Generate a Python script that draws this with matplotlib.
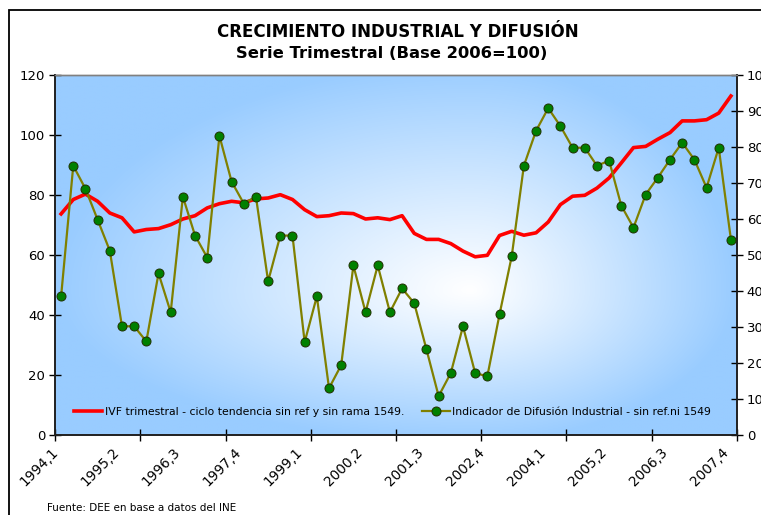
import numpy as np
import matplotlib
matplotlib.use("Agg")
import matplotlib.pyplot as plt
from matplotlib.ticker import FixedLocator
from matplotlib.patches import Rectangle
from matplotlib.lines import Line2D

plt.rcParams['font.family'] = ['DejaVu Sans']

# quarterly data 1994,1 .. 2007,4
years = list(range(1994, 2008))
quarters = [f"{y},{q}" for y in years for q in range(1, 5)]

# IVF trimestral - ciclo tendencia (left axis)
ivf = [73.7, 78.5, 80.3, 77.9, 74.0, 72.4, 67.7, 68.5, 68.8, 70.1,
       72.0, 73.1, 75.7, 77.1, 77.9, 77.4, 78.7, 79.0, 80.1, 78.5,
       75.1, 72.8, 73.1, 74.0, 73.8, 72.0, 72.4, 71.8, 73.1, 67.2,
       65.2, 65.2, 63.8, 61.3, 59.4, 59.9, 66.5, 67.9, 66.6, 67.4,
       71.0, 76.8, 79.6, 79.9, 82.3, 85.7, 90.7, 95.8, 96.2, 98.6,
       100.8, 104.7, 104.7, 105.1, 107.3, 113.0]

# Indicador de Difusion Industrial (right axis)
difusion = [38.5, 74.8, 68.4, 59.8, 51.2, 30.2, 30.2, 26.0, 44.9, 34.1,
            66.2, 55.4, 49.3, 83.1, 70.4, 64.3, 66.2, 42.7, 55.4, 55.4,
            25.8, 38.5, 13.0, 19.4, 47.1, 34.1, 47.1, 34.1, 40.7, 36.6,
            23.8, 10.8, 17.2, 30.2, 17.2, 16.3, 33.5, 49.6, 74.8, 84.5,
            90.8, 85.8, 79.8, 79.8, 74.8, 76.2, 63.7, 57.6, 66.8, 71.5,
            76.5, 81.2, 76.5, 68.7, 79.8, 54.3]

x = np.arange(len(quarters))

fig = plt.figure(figsize=(7.61, 5.15), dpi=100)
ax = fig.add_axes([55/761, 80/515, 682/761, 360/515])
ax2 = ax.twinx()

# background gradient (light centre, blue edges)
gx = np.linspace(0, 1, 400)
gy = np.linspace(0, 1, 300)
X, Y = np.meshgrid(gx, gy)
cx, cy = 0.61, 0.40
dx = np.where(X < cx, (cx - X) / cx, (X - cx) / (1 - cx))
dy = np.where(Y < cy, (cy - Y) / cy, (Y - cy) / (1 - cy)) * 0.95
t = np.clip(np.sqrt(dx**2 + dy**2), 0, 1) ** 1.05
blue = np.array([153, 204, 255]) / 255.0
img = (1 - t[..., None]) * np.ones(3) + t[..., None] * blue
ax.imshow(img, extent=[0, 1, 0, 1], transform=ax.transAxes, origin='lower',
          aspect='auto', zorder=0, interpolation='bilinear')

ax.plot(x, ivf, color='#FF0000', lw=2.6, zorder=3, solid_joinstyle='round')
ax2.plot(x, difusion, color='#808000', lw=1.6, marker='o', markersize=6.5,
         markerfacecolor='#008000', markeredgecolor='#203000', markeredgewidth=0.7,
         zorder=4)

ax.set_xlim(-0.5, len(x) - 0.5)
ax.set_ylim(0, 120)
ax2.set_ylim(0, 100)
ax.set_yticks(range(0, 121, 20))
ax2.set_yticks(range(0, 101, 10))

ax.set_xticks(x[::5])
ax.set_xticklabels(quarters[::5], rotation=45, ha='right', va='top', fontsize=9.8)
ax.xaxis.set_minor_locator(FixedLocator(np.arange(-0.5, len(x), 7)))
ax.tick_params(axis='x', which='major', length=0, pad=7)
ax.tick_params(axis='x', which='minor', direction='inout', length=8, width=1)
ax.tick_params(axis='y', direction='inout', length=8, width=1, labelsize=9.5, pad=3)
ax2.tick_params(axis='y', direction='inout', length=8, width=1, labelsize=9.5, pad=3)

for a in (ax, ax2):
    a.spines['top'].set_color('#808080')
    a.spines['top'].set_linewidth(1)
    for s in ('left', 'right', 'bottom'):
        a.spines[s].set_linewidth(1.2)
        a.spines[s].set_color('#202020')

handles = [Line2D([], [], color='#FF0000', lw=2.6),
           Line2D([], [], color='#808000', lw=1.6, marker='o', markersize=6.5,
                  markerfacecolor='#008000', markeredgecolor='#203000',
                  markeredgewidth=0.7)]
labels = ['IVF trimestral - ciclo tendencia sin ref y sin rama 1549.',
          'Indicador de Difusión Industrial - sin ref.ni 1549']
ax2.legend(handles, labels, loc='center', bbox_to_anchor=(0.495, 0.064), ncol=2,
           frameon=False, fontsize=7.8, handlelength=2.6, handletextpad=0.25,
           columnspacing=1.6)

fig.text(0.523, 1 - 32/515, 'CRECIMIENTO INDUSTRIAL Y DIFUSIÓN', ha='center',
         va='center', fontsize=12, fontweight='bold')
fig.text(0.515, 1 - 54/515, 'Serie Trimestral (Base 2006=100)', ha='center',
         va='center', fontsize=11.8, fontweight='bold')
fig.text(47/761, 1 - 508/515, 'Fuente: DEE en base a datos del INE', ha='left',
         va='center', fontsize=7.5)

# outer chart frame
fig.add_artist(Rectangle((9/761, -0.1), 1.2, 1.1 - 10/515, transform=fig.transFigure,
                         fill=False, lw=1.3, edgecolor='black'))

fig.savefig('out.png', dpi=100)
